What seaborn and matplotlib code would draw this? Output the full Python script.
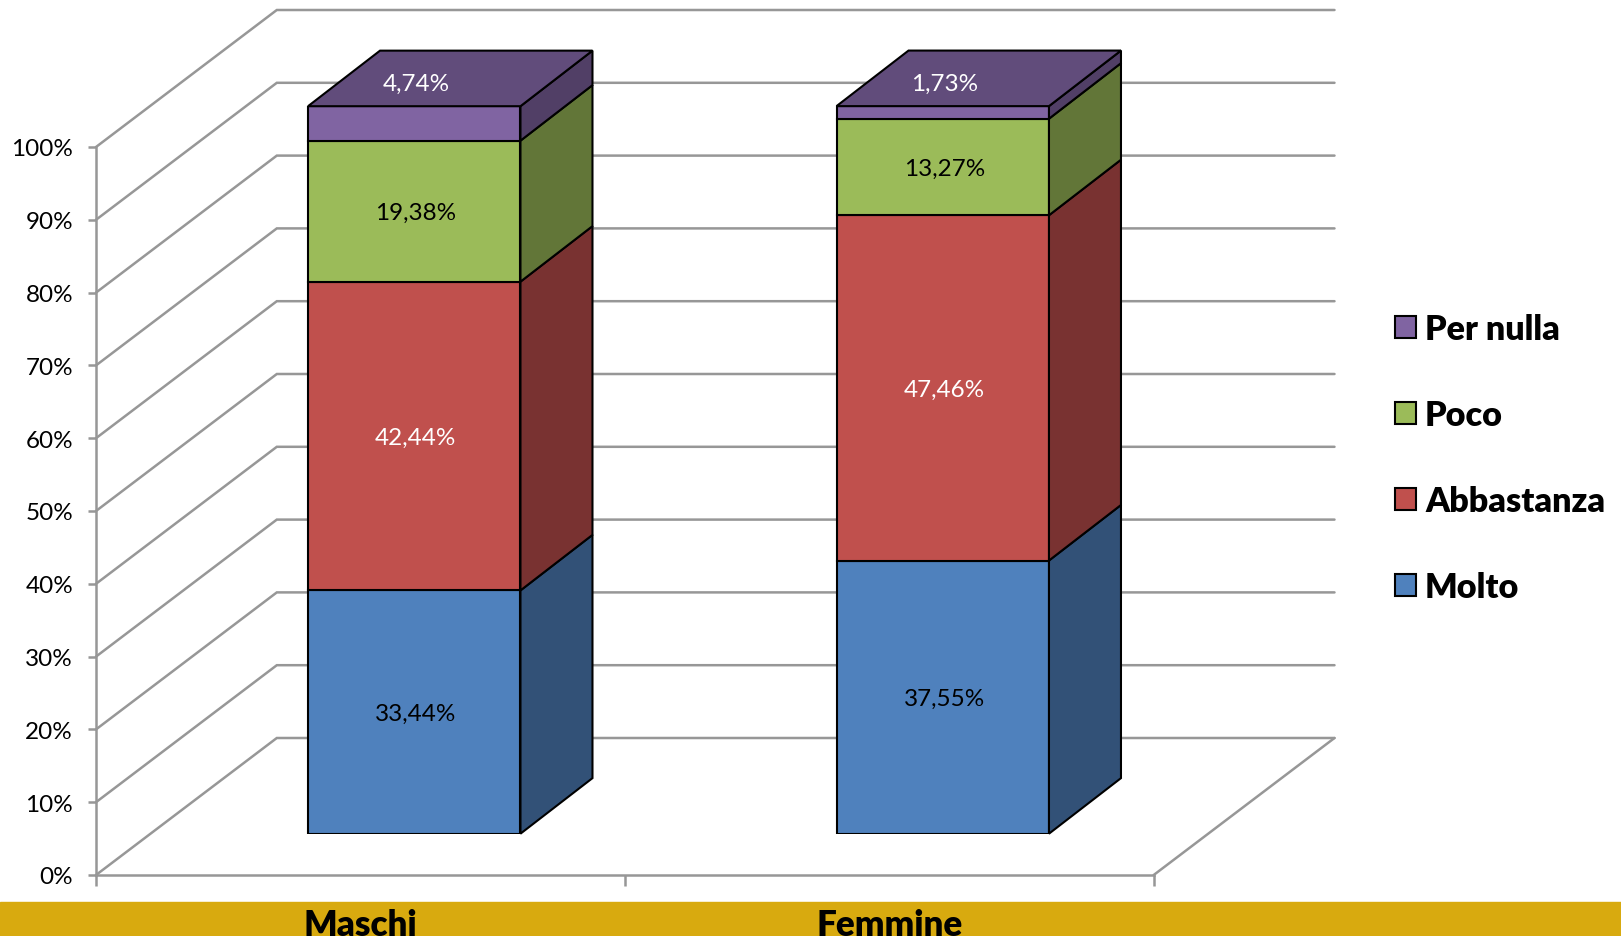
import numpy as np
import pandas as pd
import seaborn as sns
import matplotlib.pyplot as plt
from matplotlib.colors import to_rgb
from matplotlib.patches import Patch, Rectangle

# Data
gruppi = ['Maschi', 'Femmine']
risposte = ['Molto', 'Abbastanza', 'Poco', 'Per nulla']
molto = [33.44, 37.55]
abbastanza = [42.44, 47.46]
poco = [19.38, 13.27]
per_nulla = [4.74, 1.73]
colori = ['#4F81BD', '#C0504D', '#9BBB59', '#8064A2']
colori_testo = ['black', 'white', 'black', 'white']
tick_pct = list(range(0, 101, 10))

W, H = 1621, 937
GRID = '#979797'

sns.set_theme(style='white', rc={'text.color': 'black', 'xtick.color': 'black', 'ytick.color': 'black'})
plt.rcParams['font.family'] = ['Lato', 'DejaVu Sans']


def rect_px(x0, y0, x1, y1):
    # pixel box (origin top left) to figure fractions
    return [x0 / W, 1 - y1 / H, (x1 - x0) / W, (y1 - y0) / H]


def scuro(c, f):
    return tuple(v * f for v in to_rgb(c))


df = pd.DataFrame({'Molto': molto, 'Abbastanza': abbastanza, 'Poco': poco, 'Per nulla': per_nulla}, index=gruppi)

fig = plt.figure(figsize=(W / 100, H / 100), dpi=100, facecolor='white')
fig.add_artist(Rectangle((0, 0), 1, 1 - 903 / H, transform=fig.transFigure, color='#D8AA0F', zorder=-1))

# walls: front plane of the chart
ax = fig.add_axes(rect_px(96.0, 148, 1153.7, 876))
ax.set_xlim(-0.5, 1.5)
ax.set_ylim(0, 100)
ax.patch.set_alpha(0)
prof_x = 180.8 / 528.85
prof_y = 137 / 7.28
for t in tick_pct:
    ax.plot([-0.5, -0.5 + prof_x, 1.5 + prof_x], [t, t + prof_y, t + prof_y], color=GRID, lw=1.8, clip_on=False, solid_joinstyle='miter')
ax.plot([1.5, 1.5 + prof_x], [0, prof_y], color=GRID, lw=1.8, clip_on=False)

sns.despine(ax=ax)
for s in ['left', 'bottom']:
    ax.spines[s].set_color(GRID)
    ax.spines[s].set_linewidth(1.8)
ax.set_yticks(tick_pct)
ax.set_yticklabels([f'{t}%' for t in tick_pct], fontsize=17.5, color='black')
ax.set_xticks([-0.5, 0.5, 1.5])
ax.set_xticklabels([])
ax.set_xticks([0, 1], labels=gruppi, minor=True)
ax.tick_params(axis='x', which='major', length=8, width=1.8, color=GRID, bottom=True)
ax.tick_params(axis='y', length=6, width=1.8, color=GRID, left=True, pad=10.5)
ax.tick_params(axis='x', which='minor', length=0, pad=23.5, labelsize=25.2, bottom=True)
for lab in ax.get_xticklabels(minor=True):
    lab.set_fontweight('heavy')
ax.set_xlabel('')
ax.set_ylabel('')

# bars sit part way back in the depth, same scale as the walls
bar_ax = fig.add_axes(rect_px(96.7 + 53.3, 107.2, 1153.7 + 53.3, 834.7))
bar_ax.patch.set_alpha(0)
bar_dx = 72 / 528.5
bar_dy = 55.6 / 7.28
larghezza = 0.402

base = np.zeros(len(gruppi))
for j, nome in enumerate(risposte):
    valori = df[nome].values
    sns.barplot(x=gruppi, y=valori, bottom=base, color=colori[j], saturation=1, width=larghezza,
                edgecolor='black', linewidth=1.5, ax=bar_ax, zorder=3)
    for i in range(len(gruppi)):
        x1 = i + larghezza / 2
        y0, y1 = base[i], base[i] + valori[i]
        bar_ax.fill([x1, x1 + bar_dx, x1 + bar_dx, x1], [y0, y0 + bar_dy, y1 + bar_dy, y1],
                    facecolor=scuro(colori[j], 0.63), edgecolor='black', lw=1.5, clip_on=False, zorder=3)
        if j == len(risposte) - 1:
            x0 = i - larghezza / 2
            bar_ax.fill([x0, x1, x1 + bar_dx, x0 + bar_dx], [y1, y1, y1 + bar_dy, y1 + bar_dy],
                        facecolor=scuro(colori[j], 0.76), edgecolor='black', lw=1.5, clip_on=False, zorder=3)
            y_testo = y1 + bar_dy / 2 - 0.62
        else:
            y_testo = (y0 + y1) / 2 - 0.2
        bar_ax.text(i + 0.003, y_testo, f'{valori[i]:.2f}%'.replace('.', ','), ha='center', va='center',
                    fontsize=17.5, color=colori_testo[j], zorder=5)
    base = base + valori

bar_ax.set_xlim(-0.5, 1.5)
bar_ax.set_ylim(0, 100)
bar_ax.axis('off')

maniglie = [Patch(facecolor=colori[j], edgecolor='black', lw=1.5, label=risposte[j]) for j in range(3, -1, -1)]
fig.legend(handles=maniglie, loc='center left', bbox_to_anchor=(1395 / W, 1 - 459.2 / H), frameon=False,
           prop={'size': 24.6, 'weight': 'heavy'}, handlelength=0.61, handleheight=0.61, handletextpad=0.27,
           labelspacing=1.58, borderpad=0, borderaxespad=0)

fig.savefig('out.png', dpi=100, facecolor='white')
